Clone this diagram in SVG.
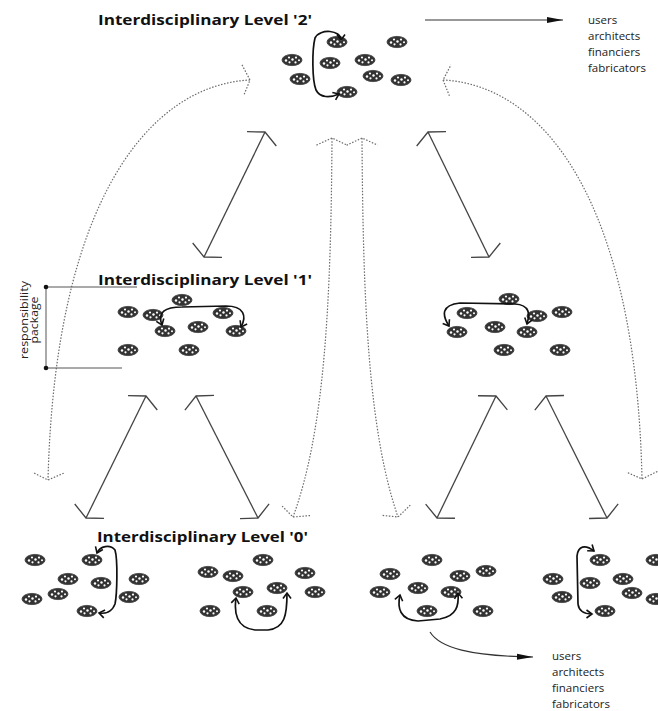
<svg xmlns="http://www.w3.org/2000/svg" xmlns:xlink="http://www.w3.org/1999/xlink" width="658" height="711" viewBox="0 0 658 711">
<style>
.title{font-family:"Open Sans","Liberation Sans",Arial,sans-serif;font-weight:bold;font-size:15px;fill:#111}
.lbl{font-family:"Open Sans","Liberation Sans",Arial,sans-serif;font-size:11.5px;fill:#222}
.solid{fill:none;stroke:#444;stroke-width:1.3}
.dot{fill:none;stroke:#6a6a6a;stroke-width:1.2;stroke-dasharray:1.5 1.6}
.loop{fill:none;stroke:#111;stroke-width:1.7}
.thin{fill:none;stroke:#333;stroke-width:1.2}
.brk{fill:none;stroke:#555;stroke-width:1}
</style>
<defs>
<g id="cell">
<ellipse rx="10" ry="5.6" fill="#333" stroke="#444" stroke-width="0.9"/>
<g fill="#fff">
<circle cx="-6" cy="0.5" r="1.2"/><circle cx="-3" cy="-2.5" r="1.1"/><circle cx="-2.5" cy="2.3" r="1.1"/>
<circle cx="0.5" cy="-0.5" r="1.2"/><circle cx="3.5" cy="2.4" r="1.1"/><circle cx="4" cy="-2.4" r="1.1"/><circle cx="7" cy="0.3" r="1"/>
</g>
</g>
<marker id="ov" viewBox="-20 -20 40 40" markerWidth="40" markerHeight="40" markerUnits="userSpaceOnUse" refX="0" refY="0" orient="auto-start-reverse">
<path d="M-7.6,-16.3 L0,0 L-7.6,16.3" fill="none" stroke="#444" stroke-width="1.3"/>
</marker>
<marker id="dv" viewBox="-20 -20 40 40" markerWidth="40" markerHeight="40" markerUnits="userSpaceOnUse" refX="0" refY="0" orient="auto-start-reverse">
<path d="M-7.2,-15.5 L0,0 L-7.2,15.5" fill="none" stroke="#6a6a6a" stroke-width="1.2" stroke-dasharray="1.5 1.6"/>
</marker>
<marker id="sa" viewBox="-10 -10 20 20" markerWidth="20" markerHeight="20" markerUnits="userSpaceOnUse" refX="0" refY="0" orient="auto-start-reverse">
<path d="M-5.5,-4 L0,0 L-5.5,4" fill="none" stroke="#111" stroke-width="1.6"/>
</marker>
<marker id="fa" viewBox="-20 -10 30 20" markerWidth="30" markerHeight="20" markerUnits="userSpaceOnUse" refX="0" refY="0" orient="auto">
<path d="M-16,-3 L0,0 L-16,3 z" fill="#111"/>
</marker>
</defs>
<rect width="658" height="711" fill="#fff"/>

<g id="titles">
<text class="title" x="98" y="25" textLength="214" lengthAdjust="spacingAndGlyphs">Interdisciplinary Level '2'</text>
<text class="title" x="98" y="285" textLength="214" lengthAdjust="spacingAndGlyphs">Interdisciplinary Level '1'</text>
<text class="title" x="97" y="542" textLength="211" lengthAdjust="spacingAndGlyphs">Interdisciplinary Level '0'</text>
</g>

<g id="actors-top">
<text class="lbl" x="588" y="24">users</text>
<text class="lbl" x="588" y="40">architects</text>
<text class="lbl" x="588" y="56">financiers</text>
<text class="lbl" x="588" y="72">fabricators</text>
</g>
<g id="actors-bottom">
<text class="lbl" x="552" y="660">users</text>
<text class="lbl" x="552" y="676">architects</text>
<text class="lbl" x="552" y="692">financiers</text>
<text class="lbl" x="552" y="708">fabricators</text>
</g>

<g id="responsibility-package">
<path class="brk" d="M46 287 H137 M46 368 H122 M46 287 V368"/>
<circle cx="46" cy="287" r="2.3" fill="#111"/>
<circle cx="46" cy="368" r="2.3" fill="#111"/>
<text class="lbl" transform="translate(28 320) rotate(-90)" text-anchor="middle" font-size="11.5" textLength="78" lengthAdjust="spacingAndGlyphs">responsibility</text>
<text class="lbl" transform="translate(38 320) rotate(-90)" text-anchor="middle" font-size="11.5" textLength="47" lengthAdjust="spacingAndGlyphs">package</text>
</g>

<g id="level2-group">
<use href="#cell" x="337" y="42"/><use href="#cell" x="397" y="42"/><use href="#cell" x="292" y="60"/>
<use href="#cell" x="330" y="63"/><use href="#cell" x="365" y="60"/><use href="#cell" x="300" y="79"/>
<use href="#cell" x="373" y="76"/><use href="#cell" x="401" y="80"/><use href="#cell" x="347" y="92"/>
</g>
<g id="level1-left-group">
<use href="#cell" x="182" y="300"/><use href="#cell" x="128" y="312"/><use href="#cell" x="153" y="315"/>
<use href="#cell" x="223" y="313"/><use href="#cell" x="165" y="331"/><use href="#cell" x="198" y="327"/>
<use href="#cell" x="236" y="331"/><use href="#cell" x="128" y="350"/><use href="#cell" x="189" y="350"/>
</g>
<g id="level1-right-group">
<use href="#cell" x="509" y="299"/><use href="#cell" x="467" y="313"/><use href="#cell" x="537" y="316"/>
<use href="#cell" x="562" y="312"/><use href="#cell" x="457" y="332"/><use href="#cell" x="495" y="327"/>
<use href="#cell" x="527" y="332"/><use href="#cell" x="504" y="350"/><use href="#cell" x="560" y="350"/>
</g>
<g id="level0-group-a">
<use href="#cell" x="35" y="560"/><use href="#cell" x="92" y="560"/><use href="#cell" x="68" y="579"/>
<use href="#cell" x="101" y="583"/><use href="#cell" x="139" y="579"/><use href="#cell" x="32" y="599"/>
<use href="#cell" x="58" y="594"/><use href="#cell" x="129" y="597"/><use href="#cell" x="87" y="611"/>
</g>
<g id="level0-group-b">
<use href="#cell" x="263" y="560"/><use href="#cell" x="208" y="572"/><use href="#cell" x="233" y="576"/>
<use href="#cell" x="305" y="573"/><use href="#cell" x="277" y="588"/><use href="#cell" x="243" y="592"/>
<use href="#cell" x="315" y="592"/><use href="#cell" x="210" y="611"/><use href="#cell" x="267" y="611"/>
</g>
<g id="level0-group-c">
<use href="#cell" x="432" y="560"/><use href="#cell" x="390" y="574"/><use href="#cell" x="460" y="576"/>
<use href="#cell" x="486" y="571"/><use href="#cell" x="380" y="592"/><use href="#cell" x="418" y="588"/>
<use href="#cell" x="451" y="592"/><use href="#cell" x="427" y="611"/><use href="#cell" x="483" y="611"/>
</g>
<g id="level0-group-d">
<use href="#cell" x="600" y="560"/><use href="#cell" x="656" y="560"/><use href="#cell" x="553" y="579"/>
<use href="#cell" x="590" y="583"/><use href="#cell" x="623" y="579"/><use href="#cell" x="562" y="597"/>
<use href="#cell" x="632" y="593"/><use href="#cell" x="656" y="599"/><use href="#cell" x="605" y="611"/>
</g>

<g id="connectors">
<path class="thin" d="M425 20 H563" marker-end="url(#fa)"/>
<path class="thin" d="M430 632 C440 648 470 656 533 657" marker-end="url(#fa)"/>
<path class="solid" d="M204 257 L265 132" marker-start="url(#ov)" marker-end="url(#ov)"/>
<path class="solid" d="M428 132 L489 257" marker-start="url(#ov)" marker-end="url(#ov)"/>
<path class="solid" d="M86 518 L146 396" marker-start="url(#ov)" marker-end="url(#ov)"/>
<path class="solid" d="M196 396 L258 518" marker-start="url(#ov)" marker-end="url(#ov)"/>
<path class="solid" d="M437 518 L496 396" marker-start="url(#ov)" marker-end="url(#ov)"/>
<path class="solid" d="M546 396 L607 518" marker-start="url(#ov)" marker-end="url(#ov)"/>
<path class="dot" d="M250 80 C150 85 55 200 48 480" marker-start="url(#dv)" marker-end="url(#dv)"/>
<path class="dot" d="M443 80 C543 85 636 200 642 479" marker-start="url(#dv)" marker-end="url(#dv)"/>
<path class="dot" d="M332 138 C331 300 325 430 293 517" marker-start="url(#dv)" marker-end="url(#dv)"/>
<path class="dot" d="M362 138 C363 300 368 430 398 517" marker-start="url(#dv)" marker-end="url(#dv)"/>
<path class="loop" d="M341 40 C341 30 320 28 315 38 C312 50 312 80 316 90 C320 98 330 98 339 94" marker-start="url(#sa)" marker-end="url(#sa)"/>
<path class="loop" d="M162 325 C157 312 165 307 182 307 L226 306 C244 306 247 316 241 327" marker-start="url(#sa)" marker-end="url(#sa)"/>
<path class="loop" d="M449 326 C442 315 441 305 460 303 L515 304 C530 305 530 314 527 324" marker-start="url(#sa)" marker-end="url(#sa)"/>
<path class="loop" d="M97 553 C100 546 110 544 115 550 C118 560 117 595 115 604 C112 612 105 614 99 613" marker-start="url(#sa)" marker-end="url(#sa)"/>
<path class="loop" d="M236 598 C234 612 236 628 255 630 L268 630 C285 628 287 615 287 593" marker-start="url(#sa)" marker-end="url(#sa)"/>
<path class="loop" d="M400 595 C397 608 400 620 418 621 L440 619 C457 616 459 605 458 593" marker-start="url(#sa)" marker-end="url(#sa)"/>
<path class="loop" d="M594 551 C585 544 578 546 577 556 L578 604 C579 612 585 614 592 614" marker-start="url(#sa)" marker-end="url(#sa)"/>
</g>
</svg>
